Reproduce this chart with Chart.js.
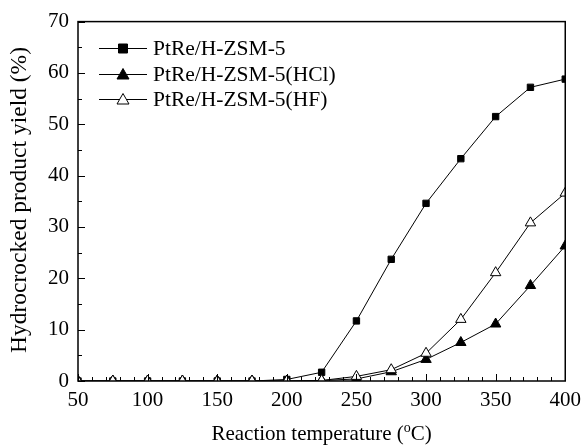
<!DOCTYPE html>
<html>
<head>
<meta charset="utf-8">
<script src="https://cdn.jsdelivr.net/npm/chart.js@4.4.0/dist/chart.umd.min.js"></script>
<style>
  body { margin: 0; background: #fff; }
  canvas { display: block; }
</style>
</head>
<body>
<canvas id="yieldChart" width="588" height="445"></canvas>
<script>
// reaction temperatures (°C)
const temps = [50, 75, 100, 125, 150, 175, 200, 225, 250, 275, 300, 325, 350, 375, 400];
// hydrocracked product yield (%)
const ptRe = [0, 0, 0, 0, 0, 0, 0.3, 1.7, 11.7, 23.7, 34.6, 43.3, 51.5, 57.2, 58.8];
const ptReHCl = [0, 0, 0, 0, 0, 0, 0, 0.1, 0.4, 1.8, 4.2, 7.5, 11.1, 18.6, 26.3];
const ptReHF = [0, 0, 0, 0, 0, 0, 0, 0.1, 0.9, 2.2, 5.4, 12.0, 21.1, 30.8, 36.6];
const seriesNames = ["PtRe/H-ZSM-5", "PtRe/H-ZSM-5(HCl)", "PtRe/H-ZSM-5(HF)"];

const FONT = "'Liberation Serif', 'Times New Roman', serif";

function pts(ys) {
  return temps.map((t, i) => ({ x: t, y: ys[i] }));
}

function drawMarker(ctx, style, fill, x, y) {
  ctx.save();
  ctx.lineWidth = 1;
  ctx.strokeStyle = "#000";
  ctx.fillStyle = fill;
  ctx.beginPath();
  if (style === "rect") {
    ctx.rect(x - 4.5, y - 4.5, 9, 9);
  } else {
    ctx.moveTo(x, y - 6);
    ctx.lineTo(x + 6, y + 4.5);
    ctx.lineTo(x - 6, y + 4.5);
    ctx.closePath();
  }
  ctx.fill();
  ctx.stroke();
  ctx.restore();
}

// plot frame, inward tick marks, axis titles and legend
const decorations = {
  id: "decorations",
  afterDraw(chart) {
    const ctx = chart.ctx;
    const a = chart.chartArea;
    const sx = chart.scales.x, sy = chart.scales.y;
    ctx.save();
    ctx.fillStyle = "#000";
    ctx.strokeStyle = "#000";
    ctx.lineWidth = 1;

    // x title with superscript o
    ctx.textBaseline = "alphabetic";
    const p1 = "Reaction temperature (";
    const p3 = "C)";
    ctx.font = "14px " + FONT;
    const wSup = ctx.measureText("o").width;
    ctx.font = "21px " + FONT;
    const w1 = ctx.measureText(p1).width;
    const w3 = ctx.measureText(p3).width;
    const x0 = (a.left + a.right) / 2 - (w1 + wSup + w3) / 2;
    const yb = 440;
    ctx.fillText(p1, x0, yb);
    ctx.font = "14px " + FONT;
    ctx.fillText("o", x0 + w1, yb - 8);
    ctx.font = "21px " + FONT;
    ctx.fillText(p3, x0 + w1 + wSup, yb);

    // y title
    ctx.save();
    ctx.translate(20, 200);
    ctx.rotate(-Math.PI / 2);
    ctx.textAlign = "center";
    ctx.textBaseline = "middle";
    ctx.font = "23.5px " + FONT;
    ctx.fillText("Hydrocrocked product yield (%)", 0, 0);
    ctx.restore();

    // legend
    const styles = [["rect", "#000"], ["triangle", "#000"], ["triangle", "#fff"]];
    const rows = [48, 74, 99];
    ctx.font = "21.5px " + FONT;
    ctx.textBaseline = "middle";
    ctx.textAlign = "left";
    seriesNames.forEach((name, i) => {
      const y = rows[i] + 0.5;
      ctx.beginPath();
      ctx.moveTo(99, y);
      ctx.lineTo(147, y);
      ctx.stroke();
      drawMarker(ctx, styles[i][0], styles[i][1], 123, y);
      ctx.fillStyle = "#000";
      ctx.fillText(name, 153, rows[i] + 1);
    });

    // frame
    ctx.strokeStyle = "#000";
    ctx.lineWidth = 1.5;
    ctx.strokeRect(a.left, a.top, a.right - a.left, a.bottom - a.top);

    // inward ticks
    ctx.lineWidth = 1;
    ctx.beginPath();
    for (let v = 50; v <= 400; v += 10) {
      const px = Math.round(sx.getPixelForValue(v)) + 0.5;
      const len = v % 50 === 0 ? 7 : 4;
      ctx.moveTo(px, a.bottom);
      ctx.lineTo(px, a.bottom - len);
    }
    for (let v = 0; v <= 70; v += 5) {
      const py = Math.round(sy.getPixelForValue(v)) + 0.5;
      const len = v % 10 === 0 ? 7 : 4;
      ctx.moveTo(a.left, py);
      ctx.lineTo(a.left + len, py);
    }
    ctx.stroke();
    ctx.restore();
  }
};

const base = {
  showLine: true,
  borderColor: "#000",
  borderWidth: 1,
  pointBorderColor: "#000",
  pointBorderWidth: 1,
  clip: 0
};

new Chart(document.getElementById("yieldChart"), {
  type: "scatter",
  data: {
    datasets: [
      Object.assign({}, base, {
        label: seriesNames[0], data: pts(ptRe),
        pointStyle: "rect", pointRadius: 4.5, pointBackgroundColor: "#000", order: 2
      }),
      Object.assign({}, base, {
        label: seriesNames[1], data: pts(ptReHCl),
        pointStyle: "triangle", pointRadius: 6, pointBackgroundColor: "#000", order: 1
      }),
      Object.assign({}, base, {
        label: seriesNames[2], data: pts(ptReHF),
        pointStyle: "triangle", pointRadius: 6, pointBackgroundColor: "#fff", order: 0
      })
    ]
  },
  options: {
    responsive: false,
    animation: false,
    layout: { padding: { top: 20, right: 20, left: 0, bottom: 0 } },
    plugins: { legend: { display: false }, tooltip: { enabled: false } },
    scales: {
      x: {
        type: "linear",
        min: 50,
        max: 400,
        afterFit: s => { s.height = 64; },
        border: { display: false },
        grid: { display: false, drawTicks: false },
        ticks: {
          stepSize: 50,
          maxRotation: 0,
          padding: 7,
          color: "#000",
          font: { family: FONT, size: 21 }
        }
      },
      y: {
        min: 0,
        max: 70,
        afterFit: s => { s.width = 78; },
        border: { display: false },
        grid: { display: false, drawTicks: false },
        ticks: {
          stepSize: 10,
          padding: 9,
          color: "#000",
          font: { family: FONT, size: 21 }
        }
      }
    }
  },
  plugins: [decorations]
});
</script>
</body>
</html>
